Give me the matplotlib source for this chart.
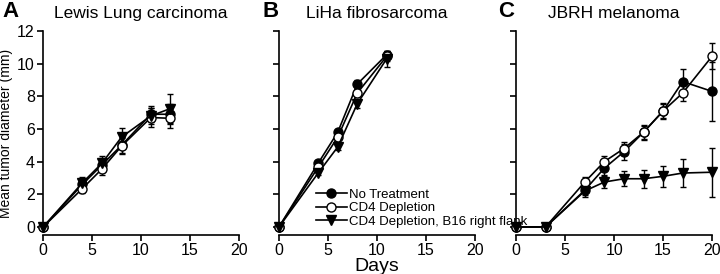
import numpy as np
import matplotlib
matplotlib.use("Agg")
from matplotlib import pyplot as plt

plt.rcParams['font.family'] = ['Liberation Sans', 'DejaVu Sans']

# Lewis Lung carcinoma
days_a = [0, 4, 6, 8, 11, 13]
a_none = [0, 2.6, 3.8, 5.0, 6.9, 6.9]
a_none_err = [0, 0.3, 0.4, 0.5, 0.5, 0.6]
a_cd4 = [0, 2.35, 3.55, 4.95, 6.7, 6.65]
a_cd4_err = [0, 0.25, 0.35, 0.5, 0.6, 0.6]
a_b16 = [0, 2.7, 3.9, 5.5, 6.8, 7.25]
a_b16_err = [0, 0.35, 0.45, 0.55, 0.5, 0.9]

# LiHa fibrosarcoma
days_b = [0, 4, 6, 8, 11]
b_none = [0, 3.9, 5.8, 8.75, 10.55]
b_none_err = [0, 0.15, 0.2, 0.25, 0.25]
b_cd4 = [0, 3.65, 5.5, 8.2, 10.45]
b_cd4_err = [0, 0.15, 0.2, 0.25, 0.3]
b_b16 = [0, 3.3, 4.9, 7.55, 10.3]
b_b16_err = [0, 0.15, 0.2, 0.25, 0.5]

# JBRH melanoma
days_c = [0, 3, 7, 9, 11, 13, 15, 17, 20]
c_none = [0, 0, 2.25, 3.6, 4.6, 5.8, 7.1, 8.9, 8.3]
c_none_err = [0, 0, 0.3, 0.4, 0.5, 0.4, 0.5, 0.8, 1.8]
c_cd4 = [0, 0, 2.75, 4.0, 4.8, 5.8, 7.1, 8.2, 10.45]
c_cd4_err = [0, 0, 0.3, 0.35, 0.4, 0.45, 0.45, 0.5, 0.8]
c_b16 = [0, 0, 2.2, 2.75, 2.95, 2.95, 3.1, 3.3, 3.35]
c_b16_err = [0, 0, 0.35, 0.35, 0.45, 0.55, 0.65, 0.85, 1.5]

titles = ["Lewis Lung carcinoma", "LiHa fibrosarcoma", "JBRH melanoma"]
letters = ["A", "B", "C"]
labels = ["No Treatment", "CD4 Depletion", "CD4 Depletion, B16 right flank"]

panels = [
    (days_a, [(a_none, a_none_err), (a_cd4, a_cd4_err), (a_b16, a_b16_err)]),
    (days_b, [(b_none, b_none_err), (b_cd4, b_cd4_err), (b_b16, b_b16_err)]),
    (days_c, [(c_none, c_none_err), (c_cd4, c_cd4_err), (c_b16, c_b16_err)]),
]

styles = [
    dict(marker='o', mfc='black', mec='black'),
    dict(marker='o', mfc='white', mec='black'),
    dict(marker='v', mfc='black', mec='black'),
]

fig = plt.figure(figsize=(7.2, 2.74), dpi=100)
lefts = [0.060, 0.3875, 0.717]
width = 0.272
bottom = 0.142
height = 0.887 - 0.142
letter_x = [2, 263, 498]

axes = []
for i, (days, series) in enumerate(panels):
    ax = fig.add_axes([lefts[i], bottom, width, height])
    ax.patch.set_alpha(0)
    axes.append(ax)
    for (vals, errs), st in zip(series, styles):
        ax.errorbar(days, vals, yerr=errs, color='black', lw=1.2, ms=6.5,
                    capsize=2.5, elinewidth=1, capthick=1, clip_on=False, **st)
    ax.set_xlim(0, 20)
    ax.set_ylim(-0.5, 12)
    ax.spines['top'].set_visible(False)
    ax.spines['right'].set_visible(False)
    ax.spines['left'].set_bounds(0, 12)
    ax.spines['left'].set_linewidth(1.2)
    ax.spines['bottom'].set_linewidth(1.2)
    ax.set_xticks([0, 5, 10, 15, 20])
    ax.set_yticks([0, 2, 4, 6, 8, 10, 12])
    ax.tick_params(labelsize=11.5, length=4, width=1.2, direction='out', pad=2)
    if i > 0:
        ax.set_yticklabels([])
    ax.set_title(titles[i], fontsize=12.5, pad=9)
    fig.text(letter_x[i] / 720, 1 - 1 / 274, letters[i], fontsize=16,
             fontweight='bold', ha='left', va='top')

axes[0].set_ylabel("Mean tumor diameter (mm)", fontsize=10, labelpad=3)
axes[1].set_xlabel("Days", fontsize=14, labelpad=0)

# legend handles: line + marker only
handles = [plt.Line2D([], [], color='black', lw=1.2, ms=6.5, **st) for st in styles]
axes[1].set_zorder(5)
leg = axes[1].legend(handles, labels, loc='lower left', bbox_to_anchor=(0.19, 0.035),
                     frameon=False, fontsize=9.5, handlelength=2.3, handletextpad=0.15,
                     labelspacing=0.1, borderaxespad=0, borderpad=0)

fig.savefig("out.png", dpi=100)
